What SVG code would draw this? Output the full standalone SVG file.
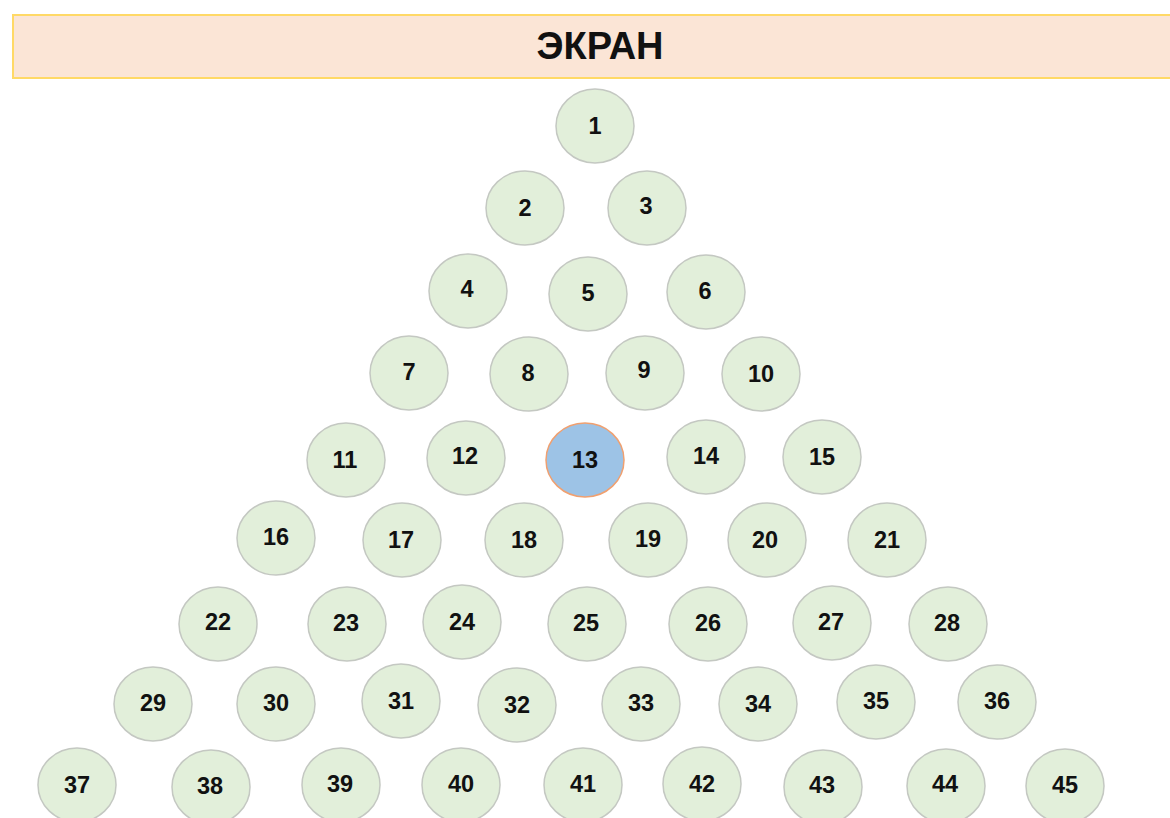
<svg xmlns="http://www.w3.org/2000/svg" width="1170" height="818" viewBox="0 0 1170 818">
<style>
.n ellipse{fill:#e2efda;stroke:#c4c8c2;stroke-width:1.5}
.n.sel ellipse{fill:#9dc3e6;stroke:#f0a070;stroke-width:1.5}
.n text{font-family:"Liberation Sans",Arial,sans-serif;font-weight:bold;font-size:23.5px;fill:#111;text-anchor:middle}
.banner rect{fill:#fbe5d6;stroke:#ffd966;stroke-width:2}
.banner text{font-family:"Liberation Sans",Arial,sans-serif;font-weight:bold;font-size:38px;fill:#111;text-anchor:middle}
</style>
<rect width="1170" height="818" fill="#ffffff"/>
<g id="screen" class="banner"><rect x="13" y="15" width="1170" height="63"/><text x="600" y="59">ЭКРАН</text></g>
<g id="connectors"></g>
<g id="n1" class="n"><ellipse cx="595" cy="126" rx="39" ry="37"/><text x="595" y="134">1</text></g>
<g id="n2" class="n"><ellipse cx="525" cy="208" rx="39" ry="37"/><text x="525" y="216">2</text></g>
<g id="n3" class="n"><ellipse cx="647" cy="208" rx="39" ry="37"/><text x="646" y="214">3</text></g>
<g id="n4" class="n"><ellipse cx="468" cy="291" rx="39" ry="37"/><text x="467" y="297">4</text></g>
<g id="n5" class="n"><ellipse cx="588" cy="294" rx="39" ry="37"/><text x="588" y="301">5</text></g>
<g id="n6" class="n"><ellipse cx="706" cy="292" rx="39" ry="37"/><text x="705" y="299">6</text></g>
<g id="n7" class="n"><ellipse cx="409" cy="373" rx="39" ry="37"/><text x="409" y="380">7</text></g>
<g id="n8" class="n"><ellipse cx="529" cy="374" rx="39" ry="37"/><text x="528" y="381">8</text></g>
<g id="n9" class="n"><ellipse cx="645" cy="373" rx="39" ry="37"/><text x="644" y="378">9</text></g>
<g id="n10" class="n"><ellipse cx="761" cy="374" rx="39" ry="37"/><text x="761" y="382">10</text></g>
<g id="n11" class="n"><ellipse cx="346" cy="460" rx="39" ry="37"/><text x="345" y="468">11</text></g>
<g id="n12" class="n"><ellipse cx="466" cy="458" rx="39" ry="37"/><text x="465" y="464">12</text></g>
<g id="n13" class="n sel"><ellipse cx="585" cy="460" rx="39" ry="37"/><text x="585" y="468">13</text></g>
<g id="n14" class="n"><ellipse cx="706" cy="457" rx="39" ry="37"/><text x="706" y="464">14</text></g>
<g id="n15" class="n"><ellipse cx="822" cy="457" rx="39" ry="37"/><text x="822" y="465">15</text></g>
<g id="n16" class="n"><ellipse cx="276" cy="538" rx="39" ry="37"/><text x="276" y="545">16</text></g>
<g id="n17" class="n"><ellipse cx="402" cy="540" rx="39" ry="37"/><text x="401" y="548">17</text></g>
<g id="n18" class="n"><ellipse cx="524" cy="540" rx="39" ry="37"/><text x="524" y="548">18</text></g>
<g id="n19" class="n"><ellipse cx="648" cy="540" rx="39" ry="37"/><text x="648" y="547">19</text></g>
<g id="n20" class="n"><ellipse cx="767" cy="540" rx="39" ry="37"/><text x="765" y="548">20</text></g>
<g id="n21" class="n"><ellipse cx="887" cy="540" rx="39" ry="37"/><text x="887" y="548">21</text></g>
<g id="n22" class="n"><ellipse cx="218" cy="624" rx="39" ry="37"/><text x="218" y="630">22</text></g>
<g id="n23" class="n"><ellipse cx="347" cy="624" rx="39" ry="37"/><text x="346" y="631">23</text></g>
<g id="n24" class="n"><ellipse cx="462" cy="622" rx="39" ry="37"/><text x="462" y="630">24</text></g>
<g id="n25" class="n"><ellipse cx="587" cy="624" rx="39" ry="37"/><text x="586" y="631">25</text></g>
<g id="n26" class="n"><ellipse cx="708" cy="624" rx="39" ry="37"/><text x="708" y="631">26</text></g>
<g id="n27" class="n"><ellipse cx="832" cy="623" rx="39" ry="37"/><text x="831" y="630">27</text></g>
<g id="n28" class="n"><ellipse cx="948" cy="624" rx="39" ry="37"/><text x="947" y="631">28</text></g>
<g id="n29" class="n"><ellipse cx="153" cy="704" rx="39" ry="37"/><text x="153" y="711">29</text></g>
<g id="n30" class="n"><ellipse cx="276" cy="704" rx="39" ry="37"/><text x="276" y="711">30</text></g>
<g id="n31" class="n"><ellipse cx="401" cy="701" rx="39" ry="37"/><text x="401" y="709">31</text></g>
<g id="n32" class="n"><ellipse cx="517" cy="705" rx="39" ry="37"/><text x="517" y="713">32</text></g>
<g id="n33" class="n"><ellipse cx="641" cy="704" rx="39" ry="37"/><text x="641" y="711">33</text></g>
<g id="n34" class="n"><ellipse cx="758" cy="704" rx="39" ry="37"/><text x="758" y="712">34</text></g>
<g id="n35" class="n"><ellipse cx="876" cy="702" rx="39" ry="37"/><text x="876" y="709">35</text></g>
<g id="n36" class="n"><ellipse cx="997" cy="702" rx="39" ry="37"/><text x="997" y="709">36</text></g>
<g id="n37" class="n"><ellipse cx="77" cy="785" rx="39" ry="37"/><text x="77" y="793">37</text></g>
<g id="n38" class="n"><ellipse cx="211" cy="787" rx="39" ry="37"/><text x="210" y="794">38</text></g>
<g id="n39" class="n"><ellipse cx="341" cy="785" rx="39" ry="37"/><text x="340" y="792">39</text></g>
<g id="n40" class="n"><ellipse cx="461" cy="785" rx="39" ry="37"/><text x="461" y="792">40</text></g>
<g id="n41" class="n"><ellipse cx="583" cy="785" rx="39" ry="37"/><text x="583" y="792">41</text></g>
<g id="n42" class="n"><ellipse cx="702" cy="784" rx="39" ry="37"/><text x="702" y="792">42</text></g>
<g id="n43" class="n"><ellipse cx="823" cy="787" rx="39" ry="37"/><text x="822" y="793">43</text></g>
<g id="n44" class="n"><ellipse cx="946" cy="786" rx="39" ry="37"/><text x="945" y="792">44</text></g>
<g id="n45" class="n"><ellipse cx="1065" cy="786" rx="39" ry="37"/><text x="1065" y="793">45</text></g>
</svg>
